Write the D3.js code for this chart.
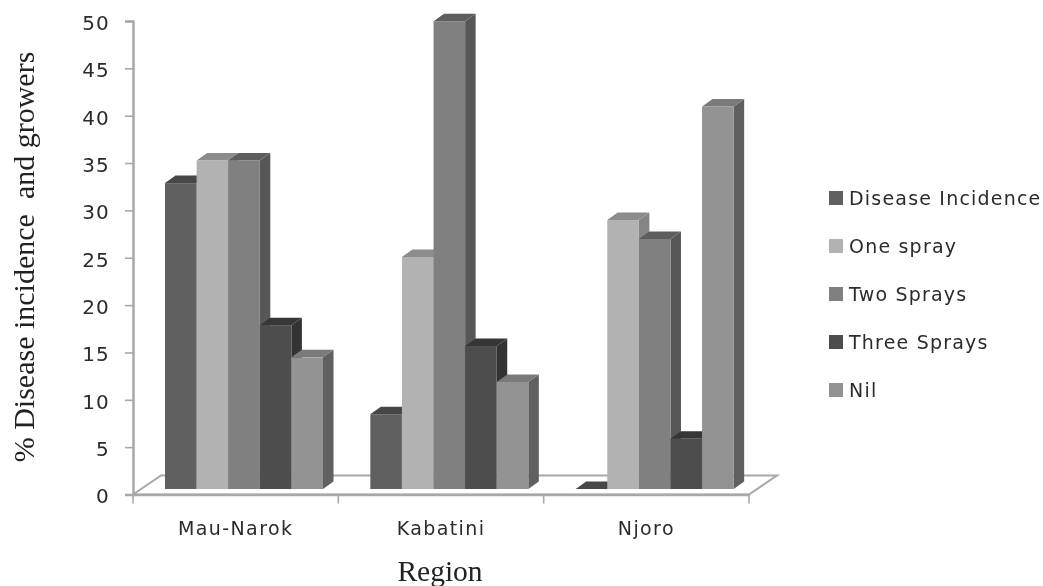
<!DOCTYPE html>
<html><head><meta charset="utf-8">
<script src="https://cdn.jsdelivr.net/npm/d3@7/dist/d3.min.js"></script>
<style>
html,body{margin:0;padding:0;background:#fff;overflow:hidden}
svg{display:block;filter:blur(0.55px)}
.tick text,.cat,.leg{font-family:"DejaVu Sans",sans-serif;fill:#2b2b2b}
.ttl{font-family:"Liberation Serif",serif;fill:#222}
</style></head><body>
<svg id="c" width="1043" height="586"></svg>
<script>
const categories = ["Mau-Narok","Kabatini","Njoro"];
const seriesNames = ["Disease Incidence","One spray","Two Sprays","Three Sprays","Nil"];
const diseaseIncidence = [32.3,7.9,0];
const oneSpray = [34.7,24.5,28.4];
const twoSprays = [34.7,49.4,26.4];
const threeSprays = [17.3,15.1,5.3];
const nil = [13.9,11.3,40.4];
const seriesValues = [diseaseIncidence,oneSpray,twoSprays,threeSprays,nil];
const yTicks = [0,5,10,15,20,25,30,35,40,45,50];
const frontColors = ["#606060","#b2b2b2","#808080","#4d4d4d","#939393"];
const topColors = ["#474747","#8c8c8c","#5e5e5e","#363636","#7a7a7a"];
const sideColors = ["#474747","#858585","#575757","#333333","#606060"];

const svg = d3.select("#c");
const axisColor = "#a8a8a8";
const x = d3.scaleBand().domain(categories).range([133,749]);
const y = d3.scaleLinear().domain([0,50]).range([494.5,21]);
const lift = 5.5, dx = 10.5, dy = 7.5, backDx = 28, backDy = 19;
const s = d3.scaleBand().domain(seriesNames).range([32,190]);

// floor
const fx0 = x.range()[0], fx1 = x.range()[1], fy = y(0);
svg.append("path")
  .attr("d",d3.line()([[fx0,fy],[fx0+backDx,fy-backDy],[fx1+backDx,fy-backDy],[fx1,fy],[fx0,fy]]))
  .attr("fill","#fff").attr("stroke",axisColor).attr("stroke-width",2);

// bars
categories.forEach((cat,ci)=>{
  seriesNames.forEach((name,si)=>{
    const v = seriesValues[si][ci];
    const x0 = x(cat)+s(name), w = s.bandwidth();
    const yb = y(0)-lift, yt = y(v)-lift;
    const g = svg.append("g");
    g.append("path").attr("fill",sideColors[si])
      .attr("d",d3.line()([[x0+w,yt],[x0+w+dx,yt-dy],[x0+w+dx,yb-dy],[x0+w,yb]]));
    g.append("path").attr("fill",topColors[si])
      .attr("d",d3.line()([[x0,yt],[x0+dx,yt-dy],[x0+w+dx,yt-dy],[x0+w,yt]]));
    g.append("rect").attr("x",x0).attr("y",yt).attr("width",w).attr("height",yb-yt).attr("fill",frontColors[si]);
  });
});

// axes
const yAxis = svg.append("g").attr("transform","translate(133,0)")
  .call(d3.axisLeft(y).tickValues(yTicks).tickSize(8).tickPadding(15));
yAxis.select(".domain").attr("stroke",axisColor).attr("stroke-width",2.5);
yAxis.selectAll("line").attr("stroke",axisColor).attr("stroke-width",1.6);
yAxis.selectAll("text").attr("font-size",20).attr("letter-spacing",1.2).attr("transform","translate(0,2)");

const xAxis = svg.append("g").attr("transform",`translate(0,${fy})`)
  .call(d3.axisBottom(x).tickSize(0).tickPadding(27));
xAxis.select(".domain").attr("stroke",axisColor).attr("stroke-width",2.5);
xAxis.selectAll("text").attr("font-size",19).attr("letter-spacing",1.4);
svg.selectAll(".xt").data(x.domain().map(d=>x(d)).concat(fx1)).enter().append("line")
  .attr("x1",d=>d).attr("x2",d=>d).attr("y1",fy).attr("y2",fy+9)
  .attr("stroke",axisColor).attr("stroke-width",1.6);

// titles
svg.append("text").attr("class","ttl").attr("x",440).attr("y",581).attr("text-anchor","middle")
  .attr("font-size",29.5).text("Region");
svg.append("text").attr("class","ttl").attr("transform","translate(33.5,257) rotate(-90)")
  .attr("text-anchor","middle").attr("font-size",30)
  .style("white-space","pre").text("% Disease incidence  and growers");

// legend
const ly = d3.scalePoint().domain(seriesNames).range([198,390]);
const lg = svg.selectAll(".lg").data(seriesNames).enter().append("g")
  .attr("transform",d=>`translate(829,${ly(d)})`);
lg.append("rect").attr("x",0).attr("y",-7).attr("width",14).attr("height",14)
  .attr("fill",(d,i)=>frontColors[i]);
lg.append("text").attr("class","leg").attr("x",20).attr("y",7).attr("font-size",19)
  .attr("letter-spacing",1.2).text(d=>d);
</script>
</body></html>
